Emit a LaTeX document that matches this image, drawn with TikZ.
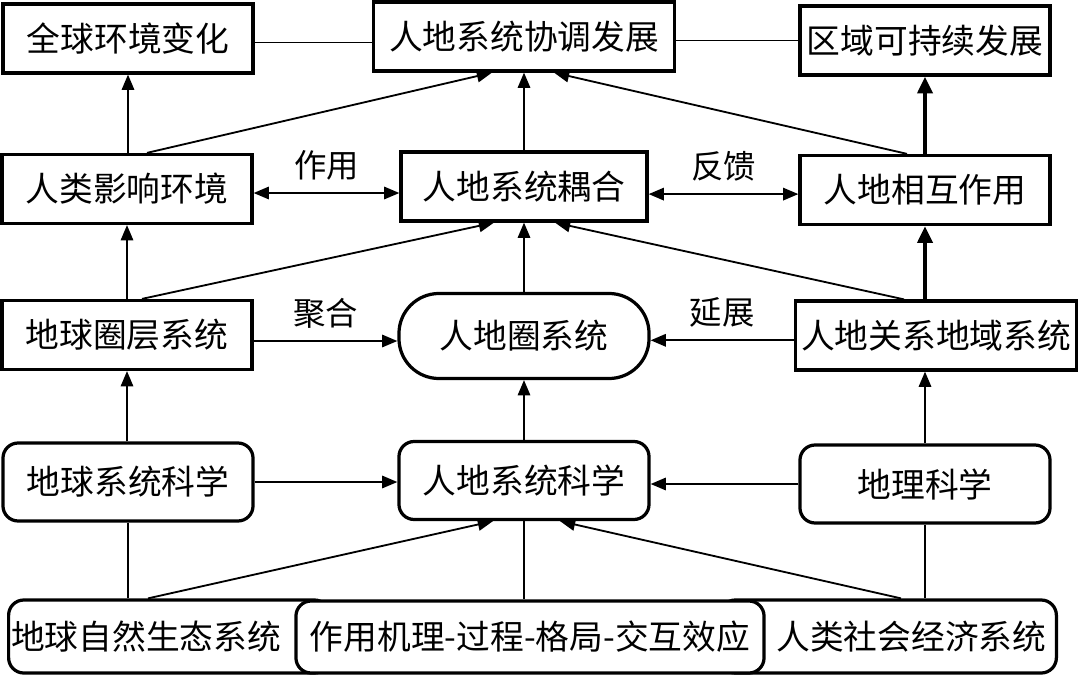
\documentclass[tikz,border=0pt]{standalone}
\usepackage{fontspec}
\newfontfamily\cjk{Noto Sans CJK SC}
\usetikzlibrary{arrows.meta,positioning,calc}
\tikzset{
  box/.style={draw,fill=white,line width=2.3pt,minimum width=6.25cm,minimum height=1.725cm,align=center,inner sep=0pt,font=\cjk\fontsize{24pt}{28pt}\selectfont},
  rbox/.style={box,rounded corners=.38cm,minimum height=1.95cm},
  pill/.style={box,rounded corners=1cm,minimum height=2.125cm},
  lbl/.style={inner sep=0pt,font=\cjk\fontsize{23pt}{27pt}\selectfont},
  flow/.style={-{Triangle[length=3.8mm,width=3.1mm]},line width=1.3pt},
  flowboth/.style={{Triangle[length=3.8mm,width=3.1mm]}-{Triangle[length=3.8mm,width=3.1mm]},line width=1.3pt},
  heavyflow/.style={-{Triangle[length=4.2mm,width=3.7mm]},line width=3.2pt},
  plainline/.style={line width=1.4pt}
}
\begin{document}
\begin{tikzpicture}[x=.025cm,y=-.025cm]
  \useasboundingbox (0,0) rectangle (1080,677);
  % top row
  \node[box] (qqbh) at (128,38.5) {全球环境变化};
  \node[box,minimum width=7.525cm] (xtfz) at (524,36.5) {人地系统协调发展};
  \node[box] (kcx) at (925,40.5) {区域可持续发展};
  % second row
  \node[box] (rlyx) at (127,189) {人类影响环境};
  \node[box,minimum width=6.15cm] (oh) at (524,186.5) {人地系统耦合};
  \node[box] (xhzy) at (925,190) {人地相互作用};
  % third row
  \node[box] (qcxt) at (127,335) {地球圈层系统};
  \node[pill] (rdq) at (524,336) {人地圈系统};
  \node[box,minimum width=7.025cm] (dyxt) at (936,335.5) {人地关系地域系统};
  % fourth row
  \node[rbox] (dqkx) at (128,482) {地球系统科学};
  \node[rbox] (rdkx) at (524,480.5) {人地系统科学};
  \node[rbox] (dlkx) at (925,484) {地理科学};
  % bottom row, middle box lies over the other two
  \node[rbox,minimum height=1.825cm,anchor=west,text width=7.9cm,align=left,inner xsep=.06cm] (zrst) at (7,636.5) {地球自然生态系统};
  \node[rbox,minimum height=1.825cm,anchor=east,text width=7.9cm,align=right,inner xsep=.25cm] (shjj) at (1058,636.5) {人类社会经济系统};
  \node[rbox,minimum width=11.7cm,minimum height=1.8cm] (jxxy) at (530,637) {作用机理-过程-格局-交互效应};

  \draw[plainline] ([yshift=-1mm]qqbh.east) -- ([yshift=-1mm]qqbh.east -| xtfz.west);
  \draw[plainline] (xtfz.east |- kcx.west) -- (kcx.west);

  \draw[flow] (rlyx.north -| qqbh) -- (qqbh.south);
  \draw[flow] ([xshift=.5cm]rlyx.north) -- ([xshift=-.8cm]xtfz.south);
  \draw[flow] (oh.north) -- (xtfz.south);
  \draw[flow] ([xshift=-.45cm]xhzy.north) -- ([xshift=.75cm]xtfz.south);
  \draw[heavyflow] (xhzy.north) -- (kcx.south);
  \draw[flowboth] ([yshift=-1mm]rlyx.east) -- node[lbl,above=3mm] (zy) {作用} ([yshift=-1mm]rlyx.east -| oh.west);
  \draw[flowboth] ([yshift=-1.9mm]oh.east) -- node[lbl,above=3mm] (fk) {反馈} ([yshift=-1.9mm]oh.east -| xhzy.west);

  \draw[flow] (qcxt.north) -- (rlyx.south);
  \draw[flow] ([xshift=.375cm]qcxt.north) -- ([xshift=-.75cm]oh.south);
  \draw[flow] (rdq.north) -- (oh.south);
  \draw[flow] ([xshift=-.8cm]dyxt.north) -- ([xshift=.775cm]oh.south);
  \draw[heavyflow] (dyxt.north -| xhzy) -- (xhzy.south);
  \draw[flow] ([yshift=-1.5mm]qcxt.east) -- node[lbl,above=3mm] (jh) {聚合} ([yshift=-1.5mm]qcxt.east -| rdq.west);
  \draw[flow] ([yshift=-1.2mm]dyxt.west) -- node[lbl,above=3mm] (yz) {延展} ([yshift=-1.2mm]dyxt.west -| rdq.east);

  \draw[flow] (dqkx.north -| qcxt) -- (qcxt.south);
  \draw[flow] (rdkx.north) -- (rdq.south);
  \draw[flow] (dlkx.north) -- (dlkx.north |- dyxt.south);
  \draw[flow] (dqkx.east) -- (dqkx.east -| rdkx.west);
  \draw[flow] (dlkx.west) -- (dlkx.west -| rdkx.east);

  \draw[plainline] (dqkx.south) -- (dqkx.south |- zrst.north);
  \draw[flow] ([xshift=.5cm]dqkx.south |- zrst.north) -- ([xshift=-.775cm]rdkx.south);
  \draw[plainline] (rdkx.south) -- (rdkx.south |- jxxy.north);
  \draw[flow] ([xshift=-.6cm]dlkx.south |- shjj.north) -- ([xshift=.9cm]rdkx.south);
  \draw[plainline] (dlkx.south) -- (dlkx.south |- shjj.north);
\end{tikzpicture}
\end{document}
